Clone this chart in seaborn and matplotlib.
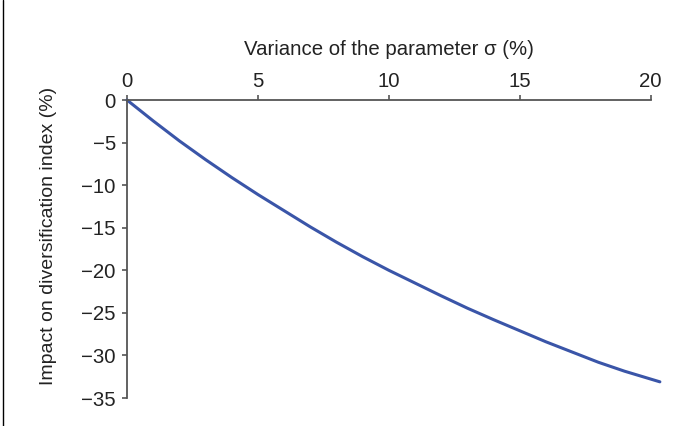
import matplotlib
matplotlib.use("Agg")
import matplotlib.pyplot as plt
import seaborn as sns
import pandas as pd
from matplotlib.lines import Line2D

# ── DATA ───────────────────────────────────────────────────────────────────────
sigma_pct = [0, 1, 2, 3, 4, 5, 6, 7, 8, 9, 10,
             11, 12, 13, 14, 15, 16, 17, 18, 19, 20.35]
impact_pct = [0, -2.45, -4.8, -7.0, -9.1, -11.1, -13.0, -14.9, -16.7, -18.4, -20.0,
              -21.5, -23.0, -24.45, -25.8, -27.1, -28.4, -29.6, -30.8, -31.85, -33.1]
x_ticks = [0, 5, 10, 15, 20]
y_ticks = [0, -5, -10, -15, -20, -25, -30, -35]

LINE_COLOR = "#3a55a8"
AXIS_COLOR = "#555555"
TEXT_COLOR = "#222222"
FS = 14.7

sns.set_theme(style="ticks")
plt.rcParams["font.family"] = ["Liberation Sans", "DejaVu Sans"]
plt.rcParams["axes.unicode_minus"] = True

df = pd.DataFrame({"sigma": sigma_pct, "impact": impact_pct})

fig = plt.figure(figsize=(6.88, 4.26), dpi=100)
ax = fig.add_axes([0.1846, 0.0657, 0.7612, 0.6995])

sns.lineplot(data=df, x="sigma", y="impact", ax=ax, color=LINE_COLOR,
             linewidth=2.2, clip_on=False)

ax.set_xlim(0, 20)
ax.set_ylim(-35, 0)
ax.set_xticks(x_ticks)
ax.set_yticks(y_ticks)
ax.set_yticklabels([f"{v}".replace("-", "\u2212") for v in y_ticks])

# x axis lives on top, at y = 0
ax.xaxis.tick_top()
ax.xaxis.set_label_position("top")
ax.spines["bottom"].set_visible(False)
ax.spines["right"].set_visible(False)
for side in ["top", "left"]:
    ax.spines[side].set_color(AXIS_COLOR)
    ax.spines[side].set_linewidth(1.3)
ax.tick_params(axis="both", colors=AXIS_COLOR, labelcolor=TEXT_COLOR,
               labelsize=FS, length=3.6, width=1.2, direction="out")
ax.tick_params(axis="x", pad=3.0)
ax.tick_params(axis="y", pad=4.5)

ax.set_xlabel("Variance of the parameter \u03c3 (%)", fontsize=FS,
              color=TEXT_COLOR, labelpad=12)
ax.set_ylabel("Impact on diversification index (%)", fontsize=14,
              color=TEXT_COLOR)
ax.yaxis.set_label_coords(-0.134, 0.545)

# thin frame line on the left edge of the figure
fig.add_artist(Line2D([0.005, 0.005], [0, 1], transform=fig.transFigure,
                      color="black", linewidth=1.0))

fig.savefig("out.png", dpi=100)
